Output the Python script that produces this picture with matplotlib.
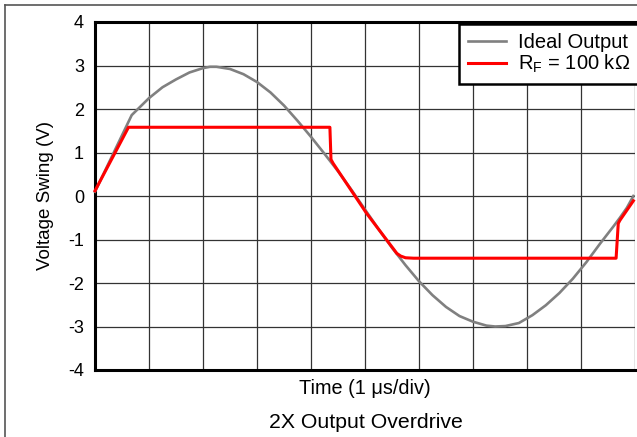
import matplotlib
matplotlib.use("Agg")
import matplotlib.pyplot as plt
from matplotlib.lines import Line2D

plt.rcParams['font.family'] = ['Liberation Sans', 'DejaVu Sans']
plt.rcParams['mathtext.fontset'] = 'custom'
plt.rcParams['mathtext.rm'] = 'Liberation Sans'
plt.rcParams['mathtext.it'] = 'Liberation Sans'

# время в делениях (1 мкс/дел), напряжение в вольтах
ideal_t = [0.0, 0.68, 1.0, 1.25, 1.5, 1.75, 2.0, 2.13, 2.25, 2.5, 2.75, 3.0,
           3.25, 3.5, 3.75, 4.0, 4.25, 4.5, 4.75, 5.0, 5.25, 5.5, 5.75, 6.0,
           6.25, 6.5, 6.75, 7.0, 7.25, 7.41, 7.6, 7.85, 8.1, 8.35, 8.6, 8.85,
           9.1, 9.35, 9.6, 9.72, 9.85, 9.97]
ideal_v = [0.10, 1.86, 2.25, 2.50, 2.68, 2.84, 2.94, 2.97, 2.97, 2.92, 2.80, 2.62,
           2.38, 2.08, 1.73, 1.36, 0.97, 0.57, 0.14, -0.31, -0.76, -1.19, -1.59, -1.96,
           -2.28, -2.55, -2.76, -2.89, -2.98, -3.00, -2.99, -2.92, -2.74, -2.51, -2.23, -1.90,
           -1.52, -1.10, -0.70, -0.50, -0.27, 0.0]

rf_t = [0.0, 0.62, 4.35, 4.37, 4.41, 5.03, 5.59, 5.66, 5.75, 5.9, 9.65, 9.69, 9.72, 9.97]
rf_v = [0.12, 1.58, 1.58, 0.84, 0.75, -0.40, -1.32, -1.38, -1.42, -1.43, -1.43, -0.63, -0.56, -0.11]

y_ticks = [-4, -3, -2, -1, 0, 1, 2, 3, 4]

fig = plt.figure(figsize=(6.37, 4.37), dpi=100)
ax = fig.add_axes([95/637, 1 - 370/437, 540/637, 348/437])

ax.plot(ideal_t, ideal_v, color='#808080', lw=1.9, label='Ideal Output', zorder=3, clip_on=False)
ax.plot(rf_t, rf_v, color='#ff0000', lw=2.2, label=r'R$_\mathregular{F}$ = 100 k$\Omega$', zorder=4, clip_on=False)

ax.set_xlim(0, 10)
ax.set_ylim(-4, 4)
ax.set_xticks(range(0, 11))
ax.set_xticklabels([])
ax.set_yticks(y_ticks)
ax.set_yticklabels([str(t) for t in y_ticks])
ax.tick_params(axis='y', length=0, labelsize=13, pad=8)
ax.tick_params(axis='x', length=0, pad=0)
ax.grid(True, color='#333333', lw=0.9)
ax.set_axisbelow(True)

for side in ['left', 'top', 'bottom']:
    ax.spines[side].set_linewidth(2.2)
    ax.spines[side].set_color('black')
ax.spines['right'].set_visible(False)

ax.set_ylabel('Voltage Swing (V)', fontsize=13.5, labelpad=10)
ax.set_xlabel('Time (1 \u03bcs/div)', fontsize=14.3, labelpad=6.5)
fig.text(366/637, 1 - 422/437, '2X Output Overdrive', fontsize=15.3, ha='center', va='center')

leg = ax.legend(loc='upper right', bbox_to_anchor=(1.007, 0.993), borderaxespad=0,
                fontsize=14.5, handlelength=1.9, handletextpad=0.55, labelspacing=0.02,
                borderpad=0.45, fancybox=False, framealpha=1)
leg.get_frame().set_edgecolor('black')
leg.get_frame().set_linewidth(1.8)

# рамка рисунка
fig.add_artist(Line2D([4.5/637, 4.5/637], [0, 1 - 4.5/437], color='#555555', lw=1.2))
fig.add_artist(Line2D([4.5/637, 1], [1 - 4.5/437, 1 - 4.5/437], color='#555555', lw=1.2))

fig.savefig('out.png', dpi=100)
